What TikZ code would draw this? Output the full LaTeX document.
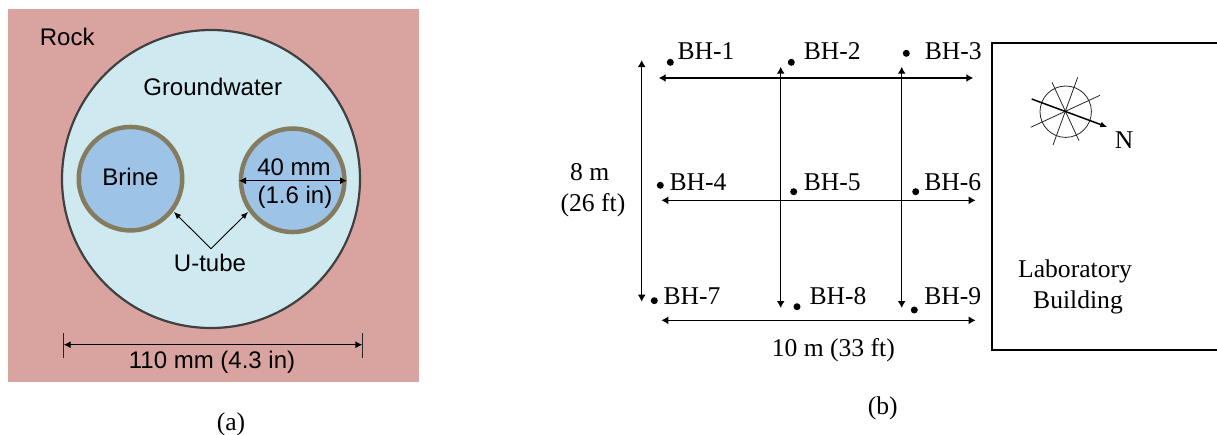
\documentclass[tikz,border=0pt]{standalone}
\usepackage{fontspec}
\setmainfont{Liberation Serif}
\newfontfamily\arialf{Liberation Sans}
\usetikzlibrary{arrows.meta}
\definecolor{rockc}{HTML}{D9A3A0}
\definecolor{waterc}{HTML}{CEEAF0}
\definecolor{brinec}{HTML}{9DC3E6}
\definecolor{tubec}{HTML}{857B5E}
\definecolor{wallc}{HTML}{404040}
\tikzset{
  sanslabel/.style={inner sep=0pt,font=\arialf\fontsize{24}{28}\selectfont},
  seriflabel/.style={inner sep=0pt,font=\fontsize{25.6}{29}\selectfont},
  tube/.style={circle,draw=tubec,fill=brinec,line width=4.5pt,minimum size=103.5pt,inner sep=0pt},
  bore/.style={circle,fill=black,minimum size=7pt,inner sep=0pt},
  dimline/.style={{Latex[length=7pt,width=7pt]}-{Latex[length=7pt,width=7pt]},line width=1pt},
  gridline/.style={{Latex[length=7pt,width=8pt]}-{Latex[length=7pt,width=8pt]},line width=1.5pt},
  pointer/.style={-{Latex[length=7pt,width=6pt]},line width=0.9pt},
  thinline/.style={line width=0.8pt,black!85}
}
\begin{document}
\begin{tikzpicture}[x=1pt,y=-1pt]
\useasboundingbox (0,0) rectangle (1217,434);
% --- (a)
\fill[rockc] (8,9) rectangle (419,382);
\node[circle,draw=wallc,fill=waterc,line width=2.2pt,minimum size=298pt,inner sep=0pt] (hole) at (211,179) {};
\node[tube] (tubeL) at (130.5,178.7) {};
\node[tube] (tubeR) at (292.7,180.3) {};
\node[sanslabel] (rock) at (67.2,37) {Rock};
\node[sanslabel] (gw) at (212.7,87) {Groundwater};
\node[sanslabel] (brine) at (130.5,177) {Brine};
\node[sanslabel] (d40) at (294,167) {40 mm};
\node[sanslabel] (d16) at (295,197.5) {(1.6 in)};
\node[sanslabel] (ut) at (210,263) {U-tube};
\node[sanslabel] (d110) at (212,362.7) {110 mm (4.3 in)};
\node[seriflabel] (capa) at (231,424.5) {(a)};
\coordinate (rL) at (239,180.7);
\coordinate (rR) at (347,180.7);
\draw[dimline] (rL) -- (rR);
\coordinate (apex) at (211,248.7);
\coordinate (pL) at (174,212);
\coordinate (pR) at (248,212);
\draw[pointer] (apex) -- (pL);
\draw[pointer] (apex) -- (pR);
\coordinate (dL) at (63.7,344.7);
\coordinate (dR) at (362.3,344.7);
\coordinate (tLa) at (63.7,333);
\coordinate (tLb) at (63.7,358);
\coordinate (tRa) at (362.3,333);
\coordinate (tRb) at (362.3,358);
\draw[thinline] (tLa) -- (tLb);
\draw[thinline] (tRa) -- (tRb);
\draw[dimline] (dL) -- (dR);
% --- (b)
\foreach \n/\x/\y in {1/670.3/62.3,2/791.3/62.3,3/906.3/53.3,4/660.3/185.3,5/793.7/191.7,6/915.7/191.7,7/654.3/300.7,8/797/306.7,9/914.3/310}
  \node[bore] (b\n) at (\x,\y) {};
\foreach \n/\x/\y in {1/706/50.7,2/832.3/50.7,3/953.3/50.7,4/698/182,5/832.3/182,6/952.7/182,7/692/296.3,8/838/296.3,9/952.7/296.3}
  \node[seriflabel] (lb\n) at (\x,\y) {BH-\n};
\coordinate (h1a) at (658.7,78);
\coordinate (h1b) at (973.3,78);
\coordinate (h2a) at (661.3,200.3);
\coordinate (h2b) at (975.7,200.3);
\coordinate (h3a) at (661.3,320.3);
\coordinate (h3b) at (975.7,320.3);
\coordinate (v1a) at (641.7,60);
\coordinate (v1b) at (641.7,301.7);
\coordinate (v2a) at (780.7,66.7);
\coordinate (v2b) at (780.7,308);
\coordinate (v3a) at (901.7,66.7);
\coordinate (v3b) at (901.7,308);
\draw[gridline] (h1a) -- (h1b);
\draw[gridline] (h2a) -- (h2b);
\draw[gridline] (h3a) -- (h3b);
\draw[gridline] (v1a) -- (v1b);
\draw[gridline] (v2a) -- (v2b);
\draw[gridline] (v3a) -- (v3b);
\node[seriflabel] (w8) at (589.7,172.5) {8 m};
\node[seriflabel] (w26) at (593,205) {(26 ft)};
\node[seriflabel] (l10) at (833.3,350) {10 m (33 ft)};
\node[seriflabel] (capb) at (882.7,408.2) {(b)};
% building
\coordinate (ba) at (1217,43.3);
\coordinate (bb) at (992.3,43.3);
\coordinate (bc) at (992.3,350);
\coordinate (bd) at (1217,350);
\draw[line width=2.3pt,black] (ba) -- (bb) -- (bc) -- (bd);
\node[seriflabel] (lab) at (1075,271) {Laboratory};
\node[seriflabel] (bld) at (1078,302) {Building};
% compass
\node[circle,draw=black!85,line width=0.8pt,minimum size=51.4pt,inner sep=0pt] (comp) at (1065.7,111.7) {};
\coordinate (c1a) at (1052,82.3);
\coordinate (c1b) at (1079,140.7);
\coordinate (c2a) at (1077.7,77.3);
\coordinate (c2b) at (1053,145);
\coordinate (c3a) at (1100,95.3);
\coordinate (c3b) at (1030.7,127.3);
\coordinate (c4a) at (1031.7,99);
\coordinate (c4b) at (1107.3,127);
\draw[thinline] (c1a) -- (c1b);
\draw[thinline] (c2a) -- (c2b);
\draw[thinline] (c3a) -- (c3b);
\draw[-{Latex[length=7pt,width=6pt]},line width=1.5pt] (c4a) -- (c4b);
\node[seriflabel] (north) at (1124,140.5) {N};
\end{tikzpicture}
\end{document}
